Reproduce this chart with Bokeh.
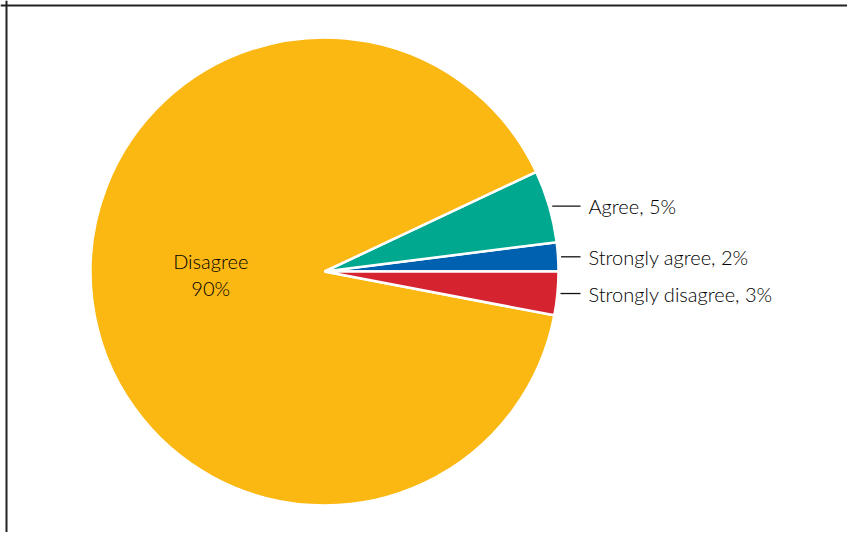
import numpy as np
from bokeh.plotting import figure
from bokeh.models import Range1d, ColumnDataSource, Span
from bokeh.core.properties import value
from bokeh.embed import file_html
from bokeh.resources import INLINE

# ---- data (counter-clockwise from 3 o'clock) ----
categories = ["Strongly agree", "Agree", "Disagree", "Strongly disagree"]
shares = [2, 5, 90, 3]
colors = ["#0061B0", "#00A88F", "#FBB813", "#D52330"]
outside = [True, True, False, True]

W, H = 847, 532
cx, cy, R = 324.0, 261.0, 234.0
FONT = "Lato Light"
TXT = "#000000"

p = figure(width=W, height=H, x_range=Range1d(0, W), y_range=Range1d(0, H),
           output_backend="svg", toolbar_location=None, min_border=0,
           x_axis_type=None, y_axis_type=None, outline_line_color=None)
p.grid.visible = False
p.background_fill_color = "white"
p.border_fill_color = "white"

vals = np.array(shares, dtype=float)
ang = vals / vals.sum() * 2 * np.pi
ends = np.cumsum(ang)
starts = ends - ang
mids = (starts + ends) / 2

src = ColumnDataSource(dict(start=starts, end=ends, color=colors))
p.wedge(x=cx, y=cy, radius=R, start_angle="start", end_angle="end",
        fill_color="color", line_color="white", line_width=2.5, source=src)

# outside labels with leader lines
lx0, lx1, ly, tx, ty, tt = [], [], [], [], [], []
ix, iy, it = [], [], []
for cat, v, m, out in zip(categories, shares, mids, outside):
    if out:
        y = cy + R * np.sin(m)
        x_edge = cx + R * np.cos(m)
        lx0.append(x_edge + 3)
        lx1.append(cx + R + 22)
        ly.append(y)
        tx.append(cx + R + 30)
        ty.append(y)
        tt.append(f"{cat}, {v}%")
    else:
        ix.append(cx + 0.49 * R * np.cos(m))
        iy.append(cy - 3)
        it.append(f"{cat}\n{v}%")

p.segment(x0=lx0, y0=ly, x1=lx1, y1=ly, line_color="#111111", line_width=1.3)
p.text(x=tx, y=ty, text=tt, text_font=value(FONT), text_font_size="20px",
       text_color=TXT, text_align="left", text_baseline="middle")
p.text(x=ix, y=iy, text=it, text_font=value(FONT), text_font_size="20px",
       text_color=TXT, text_align="center", text_baseline="middle",
       text_line_height=1.1)

# frame lines (top and left only)
p.add_layout(Span(location=6, dimension="height", line_color="#222222", line_width=2))
p.add_layout(Span(location=H - 5, dimension="width", line_color="#222222", line_width=2))

open("out.html", "w").write(file_html(p, INLINE))
